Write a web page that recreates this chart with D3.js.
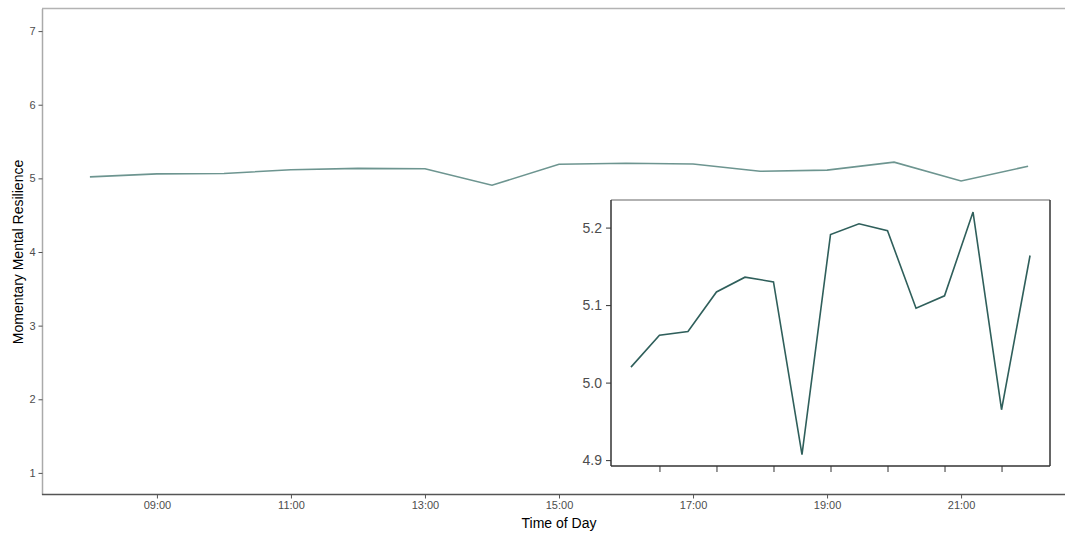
<!DOCTYPE html>
<html>
<head>
<meta charset="utf-8">
<script src="https://cdn.jsdelivr.net/npm/d3@7"></script>
<style>
  body { margin: 0; background: #fff; }
  svg { display: block; font-family: "Liberation Sans", Arial, sans-serif; }
</style>
</head>
<body>
<div id="chart"></div>
<script>
let width = 1065;
let height = 536;

// hour of day for each measurement
const hours = [8, 9, 10, 11, 12, 13, 14, 15, 16, 17, 18, 19, 20, 21, 22];
// mean momentary mental resilience per hour
const resilience = [5.020, 5.061, 5.066, 5.117, 5.136, 5.130, 4.907, 5.191, 5.205, 5.196, 5.096, 5.112, 5.220, 4.965, 5.164];
const xTicks = [9, 11, 13, 15, 17, 19, 21];
const yTicks = [1, 2, 3, 4, 5, 6, 7];
const insetYTicks = [4.9, 5.0, 5.1, 5.2];

const data = hours.map((h, i) => ({ hour: h, value: resilience[i] }));
const fmtHour = h => d3.format("02d")(h) + ":00";

const svg = d3.select("#chart").append("svg")
  .attr("width", width)
  .attr("height", height);

// main panel
let x = d3.scaleLinear().domain([7.3, 22.7]).range([43, 1075]);
let y = d3.scaleLinear().domain([0.7, 7.3]).range([495, 9]);

// top border
svg.append("line")
  .attr("x1", 42).attr("x2", width)
  .attr("y1", 8.5).attr("y2", 8.5)
  .attr("stroke", "#b3b3b3").attr("stroke-width", 1.5);

let yAxis = svg.append("g")
  .attr("transform", "translate(42.5,0)")
  .call(d3.axisLeft(y).tickValues(yTicks).tickSize(4).tickPadding(3).tickFormat(d3.format("d")));
yAxis.select(".domain").attr("stroke", "#aaaaaa").attr("stroke-width", 1.5).attr("d", `M0,${y.range()[1]}V${y.range()[0]}`);
yAxis.selectAll(".tick line").attr("stroke", "#555");
yAxis.selectAll(".tick text").attr("fill", "#4d4d4d").style("font-size", "11px");

let xAxis = svg.append("g")
  .attr("transform", "translate(0,494.5)")
  .call(d3.axisBottom(x).tickValues(xTicks).tickSize(4).tickPadding(3).tickFormat(fmtHour));
xAxis.select(".domain").attr("stroke", "#555").attr("stroke-width", 1.5).attr("d", `M42,0H${width}`);
xAxis.selectAll(".tick line").attr("stroke", "#555");
xAxis.selectAll(".tick text").attr("fill", "#4d4d4d").style("font-size", "11px");

svg.append("text")
  .attr("x", 559).attr("y", 528)
  .attr("text-anchor", "middle")
  .style("font-size", "14px")
  .attr("fill", "#000")
  .text("Time of Day");

svg.append("text")
  .attr("transform", "translate(23,252) rotate(-90)")
  .attr("text-anchor", "middle")
  .style("font-size", "14px")
  .attr("fill", "#000")
  .text("Momentary Mental Resilience");

let line = d3.line().x(d => x(d.hour)).y(d => y(d.value));
svg.append("path")
  .datum(data)
  .attr("fill", "none")
  .attr("stroke", "#6d9590")
  .attr("stroke-width", 1.6)
  .attr("d", line);

// inset panel
let ix = d3.scaleLinear().domain([7.3, 22.7]).range([611, 1050]);
let iy = d3.scaleLinear().domain([4.8924, 5.2356]).range([466, 200]);

const inset = svg.append("g");
inset.append("rect")
  .attr("x", 611).attr("y", 200)
  .attr("width", 1050 - 611).attr("height", 266)
  .attr("fill", "#fff");

inset.append("line")
  .attr("x1", 611).attr("x2", 1050)
  .attr("y1", 200).attr("y2", 200)
  .attr("stroke", "#999").attr("stroke-width", 1.5);
inset.append("line")
  .attr("x1", 1050).attr("x2", 1050)
  .attr("y1", 200).attr("y2", 466)
  .attr("stroke", "#333").attr("stroke-width", 1.5);

let iyAxis = inset.append("g")
  .attr("transform", "translate(611,0)")
  .call(d3.axisLeft(iy).tickValues(insetYTicks).tickSize(5).tickPadding(4).tickFormat(d3.format(".1f")));
iyAxis.select(".domain").attr("stroke", "#333").attr("stroke-width", 1.5).attr("d", "M0,200V466");
iyAxis.selectAll(".tick line").attr("stroke", "#333");
iyAxis.selectAll(".tick text").attr("fill", "#4d4d4d").style("font-size", "14px");

let ixAxis = inset.append("g")
  .attr("transform", "translate(0,466)")
  .call(d3.axisBottom(ix).tickValues(xTicks).tickSize(6).tickFormat(""));
ixAxis.select(".domain").attr("stroke", "#333").attr("stroke-width", 1.5).attr("d", "M611,0H1050");
ixAxis.selectAll(".tick line").attr("stroke", "#333");

let iline = d3.line().x(d => ix(d.hour)).y(d => iy(d.value));
inset.append("path")
  .datum(data)
  .attr("fill", "none")
  .attr("stroke", "#2f5f5b")
  .attr("stroke-width", 1.6)
  .attr("d", iline);
</script>
</body>
</html>
